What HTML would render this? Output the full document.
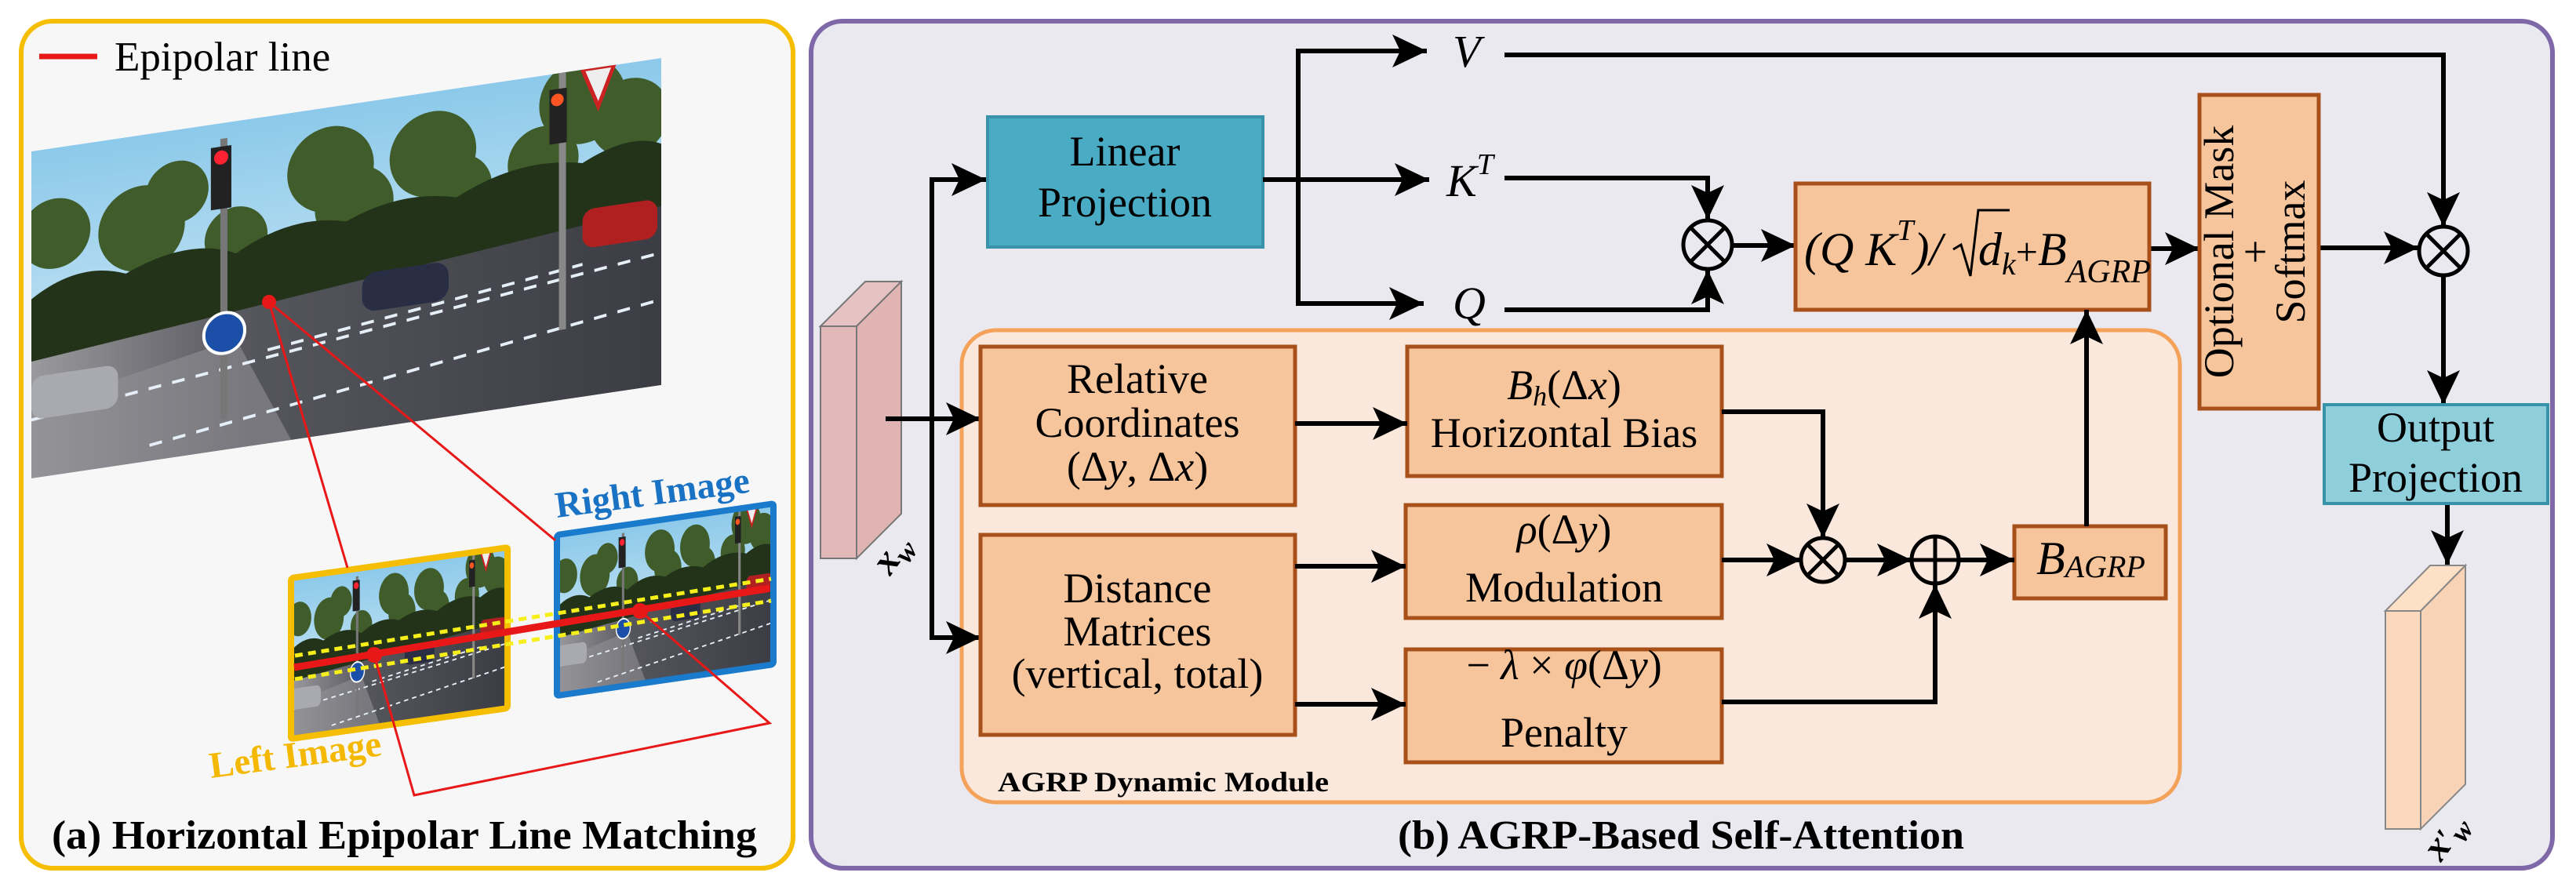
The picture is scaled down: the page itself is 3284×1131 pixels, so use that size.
<!DOCTYPE html>
<html><head><meta charset="utf-8"><style>
html,body{margin:0;padding:0;background:#fff;}
svg{display:block;}
svg text{font-family:"Liberation Serif","Times New Roman",Times,"DejaVu Serif",serif;}
</style></head><body>
<svg width="3284" height="1131" viewBox="0 0 3284 1131" xmlns="http://www.w3.org/2000/svg" font-family="Liberation Serif, Times New Roman, serif">
<defs>
<marker id="ah" markerUnits="userSpaceOnUse" markerWidth="46" markerHeight="44" refX="44" refY="21" orient="auto">
<path d="M0,0 L44,21 L0,42 L10,21 z" fill="#000"/>
</marker>
<linearGradient id="sky" x1="0" y1="0" x2="0" y2="1"><stop offset="0" stop-color="#8cc9ea"/><stop offset="1" stop-color="#e2f2f8"/></linearGradient>
<linearGradient id="road" x1="0" y1="0" x2="1" y2="0"><stop offset="0" stop-color="#9a9a9e"/><stop offset="0.35" stop-color="#55555c"/><stop offset="1" stop-color="#3c3d44"/></linearGradient>
<symbol id="scene" viewBox="0 0 800 420" preserveAspectRatio="none">
<rect width="800" height="420" fill="url(#sky)"/>
<g fill="#3f5c2a">
<circle cx="30" cy="110" r="45"/><circle cx="140" cy="120" r="55"/><circle cx="185" cy="80" r="40"/><circle cx="260" cy="150" r="40"/>
<circle cx="380" cy="80" r="55"/><circle cx="410" cy="130" r="50"/><circle cx="510" cy="80" r="55"/><circle cx="540" cy="130" r="45"/>
<circle cx="700" cy="40" r="55"/><circle cx="760" cy="70" r="50"/><circle cx="650" cy="110" r="45"/>
</g>
<path d="M0,190 Q60,150 120,175 Q200,140 260,170 Q330,130 400,150 Q470,120 540,140 Q620,100 700,120 Q760,90 800,110 L800,220 L0,280 z" fill="#22331a"/>
<polygon points="0,270 800,190 800,420 0,420" fill="url(#road)"/>
<polygon points="0,330 260,280 330,420 0,420" fill="#8f8f94" opacity="0.6"/>
<g stroke="#e6eef8" stroke-width="4" stroke-dasharray="16,14">
<line x1="0" y1="345" x2="800" y2="250"/><line x1="150" y1="400" x2="800" y2="310"/><line x1="300" y1="300" x2="700" y2="250"/>
</g>
<rect x="240" y="20" width="9" height="360" fill="#777"/>
<rect x="228" y="30" width="26" height="80" fill="#222"/><circle cx="241" cy="44" r="9" fill="#f23"/>
<rect x="670" y="0" width="9" height="330" fill="#888"/>
<rect x="658" y="20" width="22" height="70" fill="#222"/><circle cx="668" cy="34" r="8" fill="#f52"/>
<polygon points="700,0 740,0 720,50" fill="#eee" stroke="#c22" stroke-width="5"/>
<rect x="420" y="220" width="110" height="50" rx="18" fill="#2a2e45"/>
<rect x="0" y="290" width="110" height="55" rx="15" fill="#a8aab0"/>
<rect x="700" y="180" width="95" height="50" rx="15" fill="#b02020"/>
<circle cx="245" cy="270" r="26" fill="#1c4fa8" stroke="#fff" stroke-width="4"/>
</symbol>
</defs>

<rect x="27" y="27" width="984" height="1080" rx="40" fill="#f7f7f7" stroke="#f5be00" stroke-width="6"/>
<line x1="50" y1="72" x2="124" y2="72" stroke="#e81818" stroke-width="7"/>
<text x="146" y="90" font-size="53">Epipolar line</text>

<use href="#scene" x="0" y="0" width="803" height="417" transform="translate(40,193) skewY(-8.43)"/>

<g transform="translate(371,737) skewY(-8.04)">
<use href="#scene" x="0" y="0" width="276" height="205"/>
<rect x="0" y="0" width="276" height="205" fill="none" stroke="#f5be00" stroke-width="8" rx="3"/>
</g>
<g transform="translate(710,682) skewY(-8.2)">
<use href="#scene" x="0" y="0" width="276" height="205"/>
<rect x="0" y="0" width="276" height="205" fill="none" stroke="#1a7acc" stroke-width="8" rx="3"/>
</g>
<g stroke="#f7ef1a" stroke-width="5" stroke-dasharray="10,7" fill="none">
<line x1="376" y1="836" x2="983" y2="738"/>
<line x1="376" y1="866" x2="983" y2="766"/>
</g>
<g stroke="#e81818" fill="none">
<line x1="343" y1="385" x2="443" y2="724" stroke-width="3"/>
<line x1="343" y1="385" x2="708" y2="689" stroke-width="3"/>
<line x1="375" y1="851" x2="981" y2="750" stroke-width="9"/>
<polyline points="477,835 528,1014 981,922 816,779" stroke-width="3"/>
</g>
<circle cx="343" cy="385" r="9" fill="#e81818"/>
<circle cx="477" cy="835" r="10" fill="#e81818"/>
<circle cx="816" cy="779" r="10" fill="#e81818"/>
<text x="710" y="660" font-size="47" font-weight="bold" fill="#1a72c4" transform="rotate(-7.5 710 660)">Right Image</text>
<text x="269" y="992" font-size="47" font-weight="bold" fill="#f5b800" transform="rotate(-7.5 269 992)">Left Image</text>
<text x="66" y="1082" font-size="52" font-weight="bold" textLength="899" lengthAdjust="spacingAndGlyphs">(a) Horizontal Epipolar Line Matching</text>

<rect x="1034" y="27" width="2220" height="1080" rx="40" fill="#ebe9f0" stroke="#7f68a8" stroke-width="6"/>
<rect x="1226" y="421" width="1553" height="602" rx="44" fill="#fbe8dc" stroke="#f4a25a" stroke-width="5"/>
<text x="1272" y="1009" font-size="36" font-weight="bold" textLength="422" lengthAdjust="spacingAndGlyphs">AGRP Dynamic Module</text>

<polygon points="1046,416 1103,359 1149,359 1092,416" fill="#e6c2c2" stroke="#777" stroke-width="2"/>
<polygon points="1092,416 1149,359 1149,655 1092,712" fill="#e1b4b4" stroke="#777" stroke-width="2"/>
<rect x="1046" y="416" width="46" height="296" fill="#e3b8b8" stroke="#777" stroke-width="2"/>
<text x="1135" y="735" font-size="50" font-weight="bold" font-style="italic" transform="rotate(-55 1135 735)">x<tspan font-size="36" dy="10">w</tspan></text>

<g stroke="#000" stroke-width="6" fill="none">
<line x1="1129" y1="534" x2="1250" y2="534" marker-end="url(#ah)"/>
<polyline points="1188,813 1188,229 1257,229" marker-end="url(#ah)"/>
<polyline points="1188,534 1188,813 1250,813" marker-end="url(#ah)"/>
</g>

<rect x="1259" y="149" width="351" height="166" fill="#4aabc5" stroke="#3893aa" stroke-width="4"/>
<text x="1434" y="211" font-size="54" text-anchor="middle">Linear</text>
<text x="1434" y="276" font-size="54" text-anchor="middle">Projection</text>

<g stroke="#000" stroke-width="6" fill="none">
<line x1="1610" y1="229" x2="1822" y2="229" marker-end="url(#ah)"/>
<polyline points="1819,65 1655,65 1655,387 1815,387"/>
<line x1="1700" y1="65" x2="1819" y2="65" marker-end="url(#ah)"/>
<line x1="1700" y1="387" x2="1815" y2="387" marker-end="url(#ah)"/>
</g>
<text x="1852" y="85" font-size="58" font-style="italic">V</text>
<text x="1844" y="250" font-size="58" font-style="italic">K<tspan font-size="38" dy="-28">T</tspan></text>
<text x="1852" y="406" font-size="58" font-style="italic">Q</text>

<g stroke="#000" stroke-width="6" fill="none">
<polyline points="1918,70 3115,70 3115,289" marker-end="url(#ah)"/>
<polyline points="1918,227 2177,227 2177,280" marker-end="url(#ah)"/>
<polyline points="1918,395 2177,395 2177,344" marker-end="url(#ah)"/>
<line x1="2209" y1="313" x2="2289" y2="313" marker-end="url(#ah)"/>
<line x1="2740" y1="317" x2="2804" y2="317" marker-end="url(#ah)"/>
<line x1="2956" y1="316" x2="3083" y2="316" marker-end="url(#ah)"/>
<line x1="3115" y1="352" x2="3115" y2="516" marker-end="url(#ah)"/>
<line x1="3120" y1="642" x2="3120" y2="720" marker-end="url(#ah)"/>
</g>
<g stroke="#000" stroke-width="5" fill="none">
<circle cx="2177" cy="312" r="31"/><line x1="2155" y1="290" x2="2199" y2="334"/><line x1="2199" y1="290" x2="2155" y2="334"/>
<circle cx="3115" cy="320" r="31"/><line x1="3093" y1="298" x2="3137" y2="342"/><line x1="3137" y1="298" x2="3093" y2="342"/>
</g>

<rect x="2289" y="234" width="451" height="161" fill="#f7c59c" stroke="#a8501a" stroke-width="5"/>
<text x="2300" y="338" font-size="60" font-style="italic">(Q K<tspan font-size="38" dy="-32">T</tspan><tspan dy="32">)/ </tspan></text>
<path d="M2490,318 L2500,312 L2512,352 L2522,268 L2562,268" fill="none" stroke="#000" stroke-width="3"/>
<text x="2522" y="338" font-size="60" font-style="italic">d<tspan font-size="40" dy="12">k</tspan><tspan dy="-12" font-style="normal" font-size="50">+</tspan>B<tspan font-size="42" dy="22">AGRP</tspan></text>

<rect x="2804" y="121" width="152" height="400" fill="#f7c59c" stroke="#a8501a" stroke-width="5"/>
<g font-size="54" text-anchor="middle">
<text transform="translate(2847,321) rotate(-90)">Optional Mask</text>
<text transform="translate(2893,321) rotate(-90)">+</text>
<text transform="translate(2938,321) rotate(-90)">Softmax</text>
</g>

<rect x="2963" y="516" width="285" height="126" fill="#8fcfdc" stroke="#3893aa" stroke-width="4"/>
<text x="3105" y="563" font-size="54" text-anchor="middle">Output</text>
<text x="3105" y="627" font-size="54" text-anchor="middle">Projection</text>

<polygon points="3041,779 3098,721 3143,721 3086,779" fill="#fde0c6" stroke="#888" stroke-width="2"/>
<polygon points="3086,779 3143,721 3143,1000 3086,1057" fill="#f9d3b5" stroke="#888" stroke-width="2"/>
<rect x="3041" y="779" width="45" height="278" fill="#fcd9bc" stroke="#888" stroke-width="2"/>
<text x="3112" y="1100" font-size="50" font-weight="bold" font-style="italic" transform="rotate(-55 3112 1100)">x<tspan font-size="40">′</tspan><tspan font-size="36" dy="10">w</tspan></text>

<g fill="#f7c59c" stroke="#a8501a" stroke-width="5">
<rect x="1250" y="442" width="401" height="202"/>
<rect x="1250" y="682" width="401" height="255"/>
<rect x="1794" y="442" width="401" height="165"/>
<rect x="1792" y="644" width="403" height="144"/>
<rect x="1792" y="828" width="403" height="144"/>
<rect x="2568" y="671" width="193" height="92"/>
</g>
<g font-size="54" text-anchor="middle">
<text x="1450" y="501">Relative</text>
<text x="1450" y="557">Coordinates</text>
<text x="1450" y="613">(Δ<tspan font-style="italic">y</tspan>, Δ<tspan font-style="italic">x</tspan>)</text>
<text x="1450" y="768">Distance</text>
<text x="1450" y="823">Matrices</text>
<text x="1450" y="877">(vertical, total)</text>
<text x="1994" y="509"><tspan font-style="italic">B</tspan><tspan font-style="italic" font-size="36" dy="8">h</tspan><tspan dy="-8">(Δ</tspan><tspan font-style="italic">x</tspan>)</text>
<text x="1994" y="570">Horizontal Bias</text>
<text x="1994" y="693"><tspan font-style="italic">ρ</tspan>(Δ<tspan font-style="italic">y</tspan>)</text>
<text x="1994" y="767">Modulation</text>
<text x="1994" y="866">− <tspan font-style="italic">λ</tspan> × <tspan font-style="italic">φ</tspan>(Δ<tspan font-style="italic">y</tspan>)</text>
<text x="1994" y="952">Penalty</text>
</g>
<text x="2596" y="732" font-size="60" font-style="italic">B<tspan font-size="40" dy="4">AGRP</tspan></text>

<g stroke="#000" stroke-width="6" fill="none">
<line x1="1651" y1="540" x2="1794" y2="540" marker-end="url(#ah)"/>
<line x1="1651" y1="722" x2="1792" y2="722" marker-end="url(#ah)"/>
<line x1="1651" y1="898" x2="1792" y2="898" marker-end="url(#ah)"/>
<polyline points="2195,525 2324,525 2324,686" marker-end="url(#ah)"/>
<line x1="2195" y1="714" x2="2296" y2="714" marker-end="url(#ah)"/>
<line x1="2353" y1="714" x2="2437" y2="714" marker-end="url(#ah)"/>
<polyline points="2195,895 2467,895 2467,745" marker-end="url(#ah)"/>
<line x1="2497" y1="714" x2="2568" y2="714" marker-end="url(#ah)"/>
<line x1="2660" y1="671" x2="2660" y2="395" marker-end="url(#ah)"/>
</g>
<g stroke="#000" stroke-width="5" fill="none">
<circle cx="2324" cy="714" r="28"/><line x1="2304" y1="694" x2="2344" y2="734"/><line x1="2344" y1="694" x2="2304" y2="734"/>
<circle cx="2467" cy="714" r="30"/><line x1="2437" y1="714" x2="2497" y2="714"/><line x1="2467" y1="684" x2="2467" y2="744"/>
</g>

<text x="1782" y="1082" font-size="52" font-weight="bold" textLength="722" lengthAdjust="spacingAndGlyphs">(b) AGRP-Based Self-Attention</text>
</svg>
</body></html>
